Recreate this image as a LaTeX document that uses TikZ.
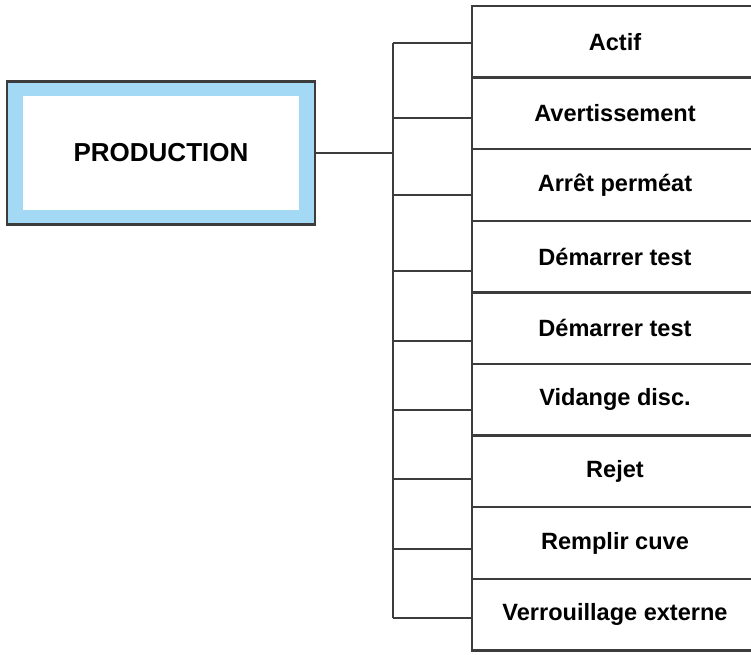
\documentclass[tikz,border=0pt]{standalone}
\usepackage{fontspec}
\setmainfont{Liberation Sans}
\usepackage{tikz}
\usetikzlibrary{positioning,calc}
\definecolor{trait}{HTML}{3C3C3C}
\definecolor{ciel}{HTML}{A4D9F5}

\begin{document}
\begin{tikzpicture}[x=0.02cm,y=-0.02cm,
  etat/.style={rectangle,draw=trait,line width=1.4pt,fill=white,inner sep=0pt,
              minimum width=5.72cm,minimum height=1.432cm,
              font=\fontsize{13.4}{16}\selectfont\bfseries},
  mode/.style={rectangle,draw=trait,line width=1.3pt,fill=ciel,
              minimum width=6.16cm,minimum height=2.86cm},
  lien/.style={draw=trait,line width=1.4pt}
]
\useasboundingbox (0,0) rectangle (751,654);
\clip (0,0) rectangle (751,654);

% mode box on the left
\node[mode] (prod) at (161,153) {};
\node[rectangle,fill=white,minimum width=5.52cm,minimum height=2.28cm,
      font=\fontsize{14.8}{17}\selectfont\bfseries] (prodtxt) at (prod.center) {PRODUCTION};

% column of states
\foreach \txt [count=\i] in {Actif,Avertissement,Arrêt perméat,Démarrer test,
    Démarrer test,Vidange disc.,Rejet,Remplir cuve,Verrouillage externe}
  \node[etat] (e\i) at (615,71.6*\i-29.8) {\txt};

% branches
\foreach \i/\yb in {1/43,2/118,3/195,4/271,5/341,6/410,7/479,8/549,9/618} {
  \coordinate (t\i) at (393,\yb);
  \draw[lien] (t\i) -- (t\i -| e\i.west);
}
\draw[lien] (t1) -- (t9);
\coordinate (hub) at (prod.east -| t1);
\draw[lien] (prod.east) -- (hub);
\end{tikzpicture}
\end{document}
